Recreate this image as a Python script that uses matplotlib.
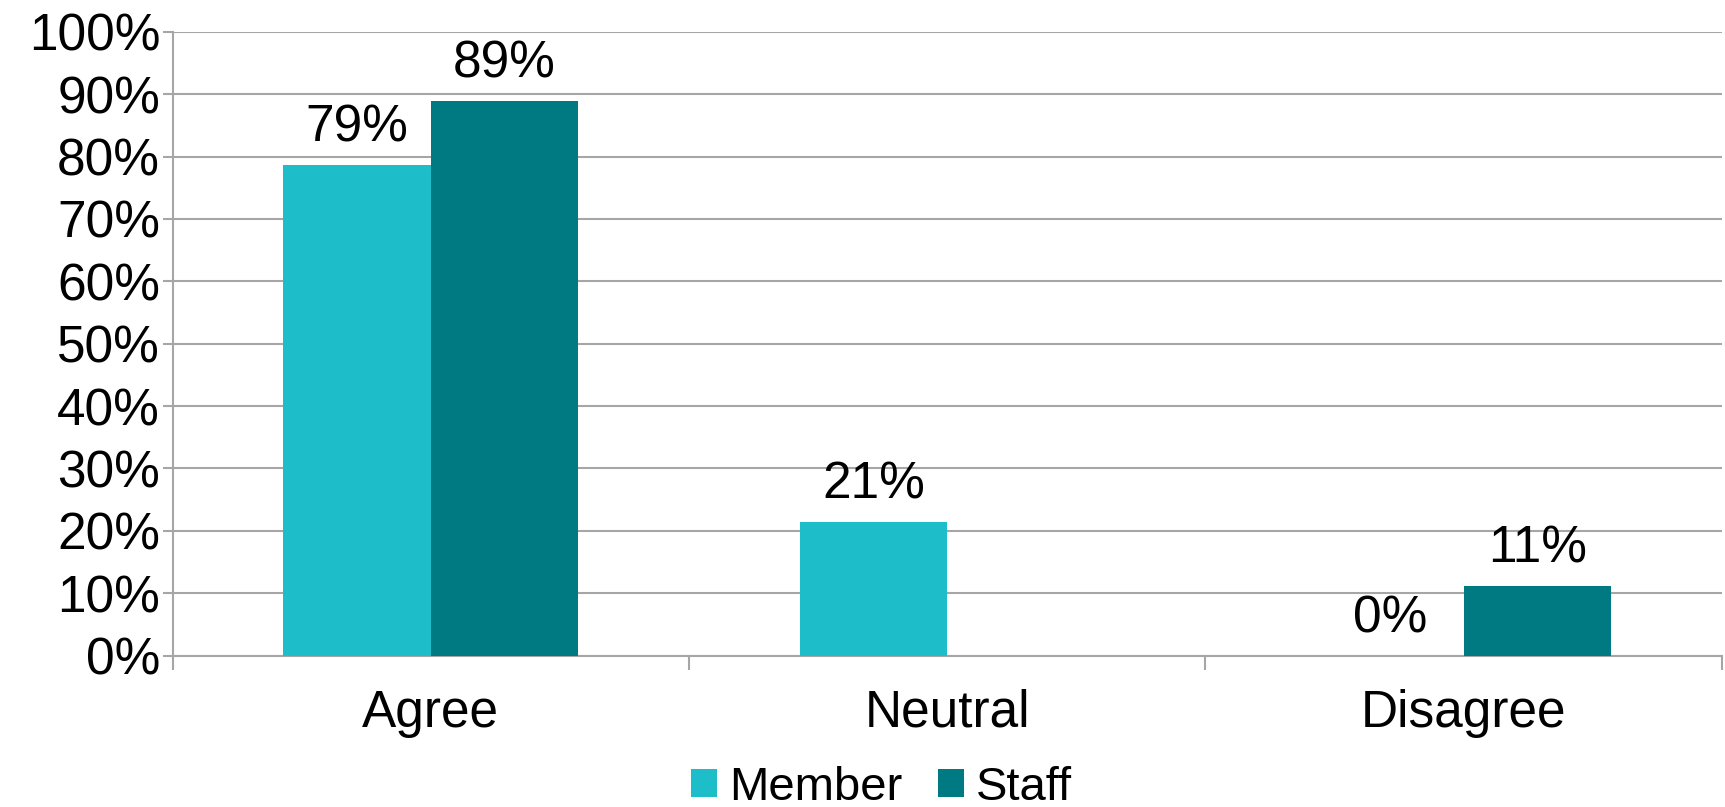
import numpy as np
import matplotlib
matplotlib.use("Agg")
import matplotlib.pyplot as plt
from matplotlib.ticker import FixedLocator

categories = ["Agree", "Neutral", "Disagree"]
series_names = ["Member", "Staff"]
member = [0.786, 0.214, 0.0]
staff = [0.889, 0.0, 0.111]
label_member = ["79%", "21%", "0%"]
label_staff = ["89%", "", "11%"]
y_ticks = [i / 10 for i in range(11)]
y_tick_labels = [f"{i * 10}%" for i in range(11)]

plt.rcParams['font.family'] = ['Liberation Sans', 'DejaVu Sans']
FS = 37
colors = ["#1DBEC9", "#007A82"]
grid_col = "#A6A6A6"

fig = plt.figure(figsize=(17.25, 8.07), dpi=100)
ax = fig.add_axes([0.1001, 0.1876, 0.898, 0.7729])

x = np.arange(len(categories))
w = 1 / 3.5
b1 = ax.bar(x - w / 2, member, w, color=colors[0], label=series_names[0], zorder=3)
b2 = ax.bar(x + w / 2, staff, w, color=colors[1], label=series_names[1], zorder=3)

for bars, labels in ((b1, label_member), (b2, label_staff)):
    for r, t in zip(bars, labels):
        if t:
            ax.annotate(t, (r.get_x() + r.get_width() / 2, r.get_height()),
                        xytext=(0, 9), textcoords="offset points",
                        ha="center", va="bottom", fontsize=FS)

ax.set_ylim(0, 1)
ax.set_xlim(-0.5, len(categories) - 0.5)
ax.set_yticks(y_ticks)
ax.set_yticklabels(y_tick_labels, fontsize=FS)
ax.set_xticks(x)
ax.set_xticklabels(categories, fontsize=FS)
ax.xaxis.set_minor_locator(FixedLocator(np.arange(-0.5, len(categories), 1)))
ax.tick_params(axis="x", which="major", length=0, pad=24)
ax.tick_params(axis="x", which="minor", length=10, width=1.5, color=grid_col)
ax.tick_params(axis="y", length=7, width=1.5, color=grid_col, pad=2)

ax.yaxis.grid(True, color=grid_col, linewidth=1.5, zorder=0)
for s in ["top", "right"]:
    ax.spines[s].set_visible(False)
for s in ["left", "bottom"]:
    ax.spines[s].set_color(grid_col)
    ax.spines[s].set_linewidth(1.5)

fig.legend(handles=[b1, b2], labels=series_names, loc="center",
           bbox_to_anchor=(0.511, 0.024), ncol=2, frameon=False, fontsize=34,
           handlelength=0.55, handleheight=0.55, handletextpad=0.25,
           columnspacing=0.75, borderpad=0.1)

fig.savefig("out.png", dpi=100)
